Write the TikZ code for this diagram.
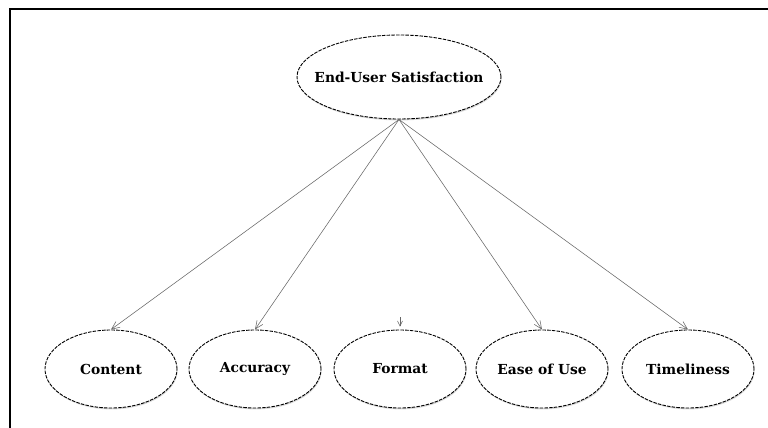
\documentclass[tikz,border=0pt]{standalone}
\usepackage{fontspec}
\setmainfont{DejaVu Serif}
\usetikzlibrary{shapes.geometric,arrows.meta,shadows}
\begin{document}
\begin{tikzpicture}[x=1pt,y=-1pt,
  oval/.style={ellipse, draw=black, dashed, dash pattern=on 3.5pt off 1.2pt, line width=0.9pt, fill=white,
    minimum width=132pt, minimum height=78pt, inner sep=0pt,
    font=\bfseries\fontsize{13.8}{15}\selectfont,
    drop shadow={opacity=0.3, shadow xshift=0.6pt, shadow yshift=-1.4pt}},
  bigoval/.style={oval, minimum width=204pt, minimum height=84pt},
  edge/.style={draw=black!60, line width=0.55pt, -{Straight Barb[length=8pt,width=7pt]}},
  frame/.style={draw=black, line width=2pt}]
\useasboundingbox (0,0) rectangle (768,428);
\draw[frame] (10,428) -- (10,9) -- (768,9);
\node[bigoval] (eus) at (399,77) {\makebox[0pt][c]{End-User Satisfaction}};
\node[oval] (content) at (111,369) {\makebox[0pt][c]{Content}};
\node[oval] (accuracy) at (255,369) {\makebox[0pt][c]{Accuracy}};
\node[oval] (format) at (400,369) {\makebox[0pt][c]{Format}};
\node[oval] (ease) at (542,369) {\makebox[0pt][c]{Ease of Use}};
\node[oval] (time) at (688,369) {\makebox[0pt][c]{Timeliness}};
\coordinate (stub) at (400,317);
\draw[edge] (eus.south) -- (content.north);
\draw[edge] (eus.south) -- (accuracy.north);
\draw[edge] (eus.south) -- (ease.north);
\draw[edge] (eus.south) -- (time.north);
\draw[draw=black!60, line width=0.55pt, -{Straight Barb[length=5pt,width=5pt]}, shorten >=3pt] (stub) -- (format.north);
\end{tikzpicture}
\end{document}
